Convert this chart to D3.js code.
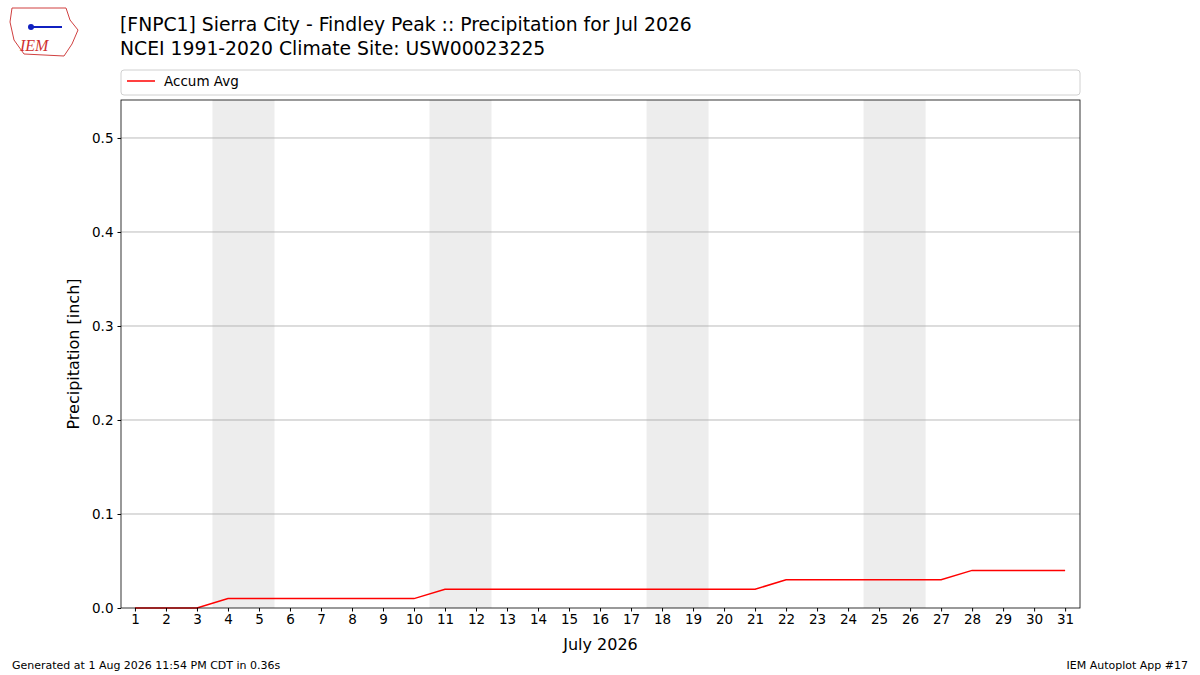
<!DOCTYPE html>
<html><head><meta charset="utf-8">
<script src="https://d3js.org/d3.v7.min.js"></script>
<style>body{margin:0;background:#fff;font-family:"DejaVu Sans",sans-serif}</style>
</head><body>
<script>
// Data
const days = d3.range(1, 32);
const accumAvg = [0,0,0,0.01,0.01,0.01,0.01,0.01,0.01,0.01,0.02,0.02,0.02,0.02,0.02,0.02,0.02,0.02,0.02,0.02,0.02,0.03,0.03,0.03,0.03,0.03,0.03,0.04,0.04,0.04,0.04];
const weekendStarts = [4, 11, 18, 25];
const yTicks = [0, 0.1, 0.2, 0.3, 0.4, 0.5];

const W = 1200, H = 675;
const m = {l: 121, r: 1080, t: 100, b: 608};
const svg = d3.select('body').append('svg').attr('width', W).attr('height', H)
    .style('font-family', '"DejaVu Sans", sans-serif');

const x = d3.scaleLinear().domain([0.55, 31.48]).range([m.l, m.r]);
const y = d3.scaleLinear().domain([0, 0.5404]).range([m.b, m.t]);

// weekend shading
svg.append('g').selectAll('rect').data(weekendStarts).join('rect')
    .attr('x', d => x(d - 0.5)).attr('width', d => x(d + 1.5) - x(d - 0.5))
    .attr('y', m.t).attr('height', m.b - m.t).attr('fill', '#ededed');

// grid
svg.append('g').selectAll('line').data(yTicks.slice(1)).join('line')
    .attr('x1', m.l).attr('x2', m.r).attr('y1', d => y(d)).attr('y2', d => y(d))
    .attr('stroke', '#a8a8a8').attr('stroke-width', 0.8);

// line
svg.append('path').datum(days)
    .attr('d', d3.line().x(d => x(d)).y((d, i) => y(accumAvg[i])))
    .attr('fill', 'none').attr('stroke', 'red').attr('stroke-width', 1.5);

// frame
svg.append('rect').attr('x', m.l).attr('y', m.t).attr('width', m.r - m.l).attr('height', m.b - m.t)
    .attr('fill', 'none').attr('stroke', '#000').attr('stroke-width', 0.8);

// axes
const xAxis = svg.append('g').attr('transform', `translate(0,${m.b})`)
    .call(d3.axisBottom(x).tickValues(days).tickSize(3.5).tickPadding(3));
const yAxis = svg.append('g').attr('transform', `translate(${m.l},0)`)
    .call(d3.axisLeft(y).tickValues(yTicks).tickFormat(d3.format('.1f')).tickSize(3.5).tickPadding(4));
[xAxis, yAxis].forEach(a => {
    a.select('.domain').remove();
    a.selectAll('text').attr('font-size', 13.5).attr('fill', '#000').attr('font-family', '"DejaVu Sans", sans-serif');
    a.selectAll('line').attr('stroke', '#000');
});

svg.append('text').attr('x', (m.l + m.r) / 2).attr('y', 650).attr('text-anchor', 'middle')
    .attr('font-size', 16).text('July 2026');
svg.append('text').attr('transform', `translate(79,${(m.t + m.b) / 2}) rotate(-90)`)
    .attr('text-anchor', 'middle').attr('font-size', 16).text('Precipitation [inch]');

// titles
svg.append('text').attr('x', 120).attr('y', 31).attr('font-size', 18.8)
    .text('[FNPC1] Sierra City - Findley Peak :: Precipitation for Jul 2026');
svg.append('text').attr('x', 120).attr('y', 55).attr('font-size', 18.8)
    .text('NCEI 1991-2020 Climate Site: USW00023225');

// legend
svg.append('rect').attr('x', 121).attr('y', 70).attr('width', 959).attr('height', 25).attr('rx', 3)
    .attr('fill', '#fff').attr('stroke', '#d0d0d0');
svg.append('line').attr('x1', 127).attr('x2', 155).attr('y1', 81).attr('y2', 81)
    .attr('stroke', 'red').attr('stroke-width', 1.5);
svg.append('text').attr('x', 164).attr('y', 86).attr('font-size', 13.5).text('Accum Avg');

// footer
svg.append('text').attr('x', 12).attr('y', 669).attr('font-size', 11).text('Generated at 1 Aug 2026 11:54 PM CDT in 0.36s');
svg.append('text').attr('x', 1188).attr('y', 669).attr('font-size', 11).attr('text-anchor', 'end').text('IEM Autoplot App #17');

// logo (simplified)
const logo = svg.append('g');
logo.append('path').attr('d', 'M12,8 L66,8 L70,20 L78,30 L72,44 L64,56 L24,54 L14,40 L10,22 Z')
    .attr('fill', '#fff').attr('stroke', '#d04040').attr('stroke-width', 1);
logo.append('line').attr('x1', 30).attr('x2', 62).attr('y1', 27).attr('y2', 27).attr('stroke', '#1020c0').attr('stroke-width', 2);
logo.append('circle').attr('cx', 31).attr('cy', 27).attr('r', 3).attr('fill', '#1020c0');
logo.append('text').attr('x', 20).attr('y', 51).attr('font-size', 16).attr('font-style', 'italic')
    .attr('font-family', '"Liberation Serif", serif').attr('fill', '#d03030').text('IEM');
</script>
</body></html>
